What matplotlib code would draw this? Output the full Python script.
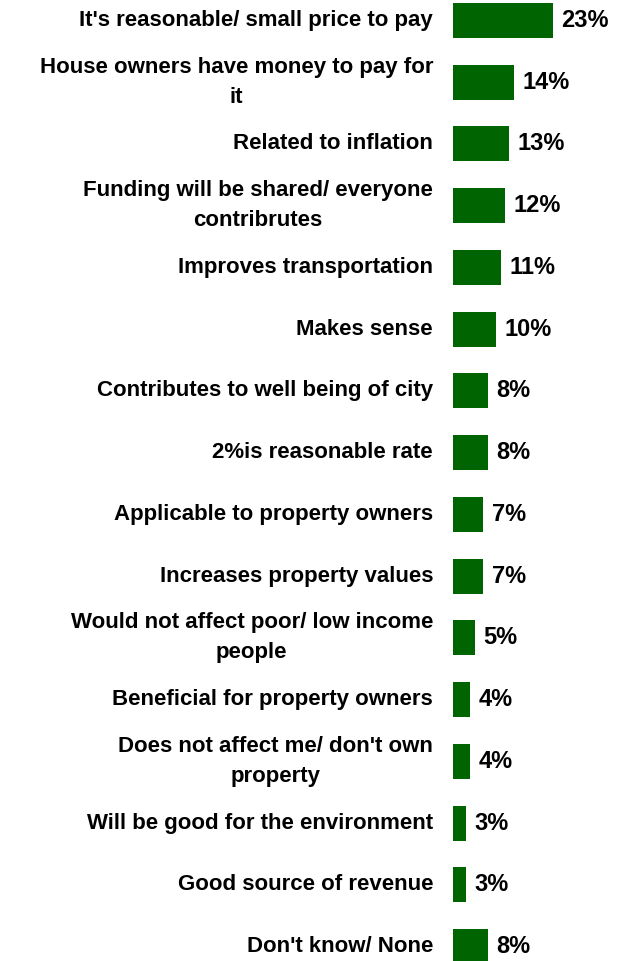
import matplotlib.pyplot as plt

# Reasons given, top to bottom, and share of respondents (%)
reasons = [
    "It's reasonable/ small price to pay",
    "House owners have money to pay for\nit",
    "Related to inflation",
    "Funding will be shared/ everyone\ncontribrutes",
    "Improves transportation",
    "Makes sense",
    "Contributes to well being of city",
    "2%is reasonable rate",
    "Applicable to property owners",
    "Increases property values",
    "Would not affect poor/ low income\npeople",
    "Beneficial for property owners",
    "Does not affect me/ don't own\nproperty",
    "Will be good for the environment",
    "Good source of revenue",
    "Don't know/ None",
]
shares = [23, 14, 13, 12, 11, 10, 8, 8, 7, 7, 5, 4, 4, 3, 3, 8]

plt.rcParams['font.family'] = ['Liberation Sans', 'DejaVu Sans']
plt.rcParams['font.weight'] = 'bold'

fig = plt.figure(figsize=(6.17, 9.61), dpi=100)
ax = fig.add_axes([453 / 617, 0, 164 / 617, 1])

pos = list(range(len(reasons)))
ax.barh(pos, shares, height=0.567, color='#006400')
for y, v in zip(pos, shares):
    ax.text(v + 2.0, y, f"{v}%", va='center', ha='left',
            fontsize=17, fontweight='bold')

ax.set_xlim(0, 37.9)
ax.set_ylim(15.235, -0.332)
ax.set_yticks(pos)
ax.set_yticklabels(reasons, fontsize=16, fontweight='bold', va='center',
                   ha='right', multialignment='center', linespacing=1.55)
ax.tick_params(axis='y', length=0, pad=14.4)
ax.set_xticks([])
for s in ax.spines.values():
    s.set_visible(False)

fig.savefig('out.png', dpi=100)
